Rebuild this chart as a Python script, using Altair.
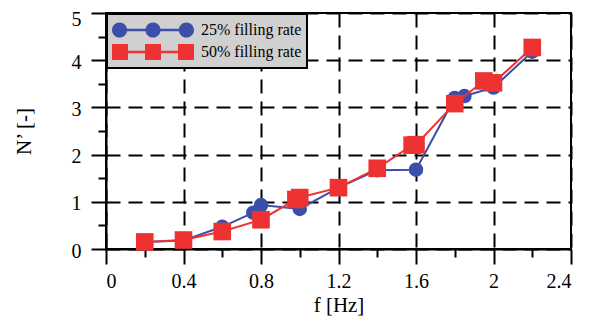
import altair as alt
import pandas as pd

# ---- data ----
series = ["25% filling rate", "50% filling rate"]
colors = ["#3b4fa8", "#ee3232"]

f25 = [0.2, 0.4, 0.6, 0.76, 0.8, 1.0, 1.2, 1.4, 1.6, 1.8, 1.85, 2.0, 2.2]
n25 = [0.15, 0.18, 0.47, 0.77, 0.93, 0.85, 1.3, 1.67, 1.68, 3.2, 3.24, 3.42, 4.18]

f50 = [0.2, 0.4, 0.6, 0.8, 0.98, 1.0, 1.2, 1.4, 1.58, 1.6, 1.8, 1.95, 2.0, 2.2]
n50 = [0.15, 0.19, 0.37, 0.62, 1.05, 1.09, 1.3, 1.71, 2.2, 2.21, 3.08, 3.56, 3.52, 4.27]

x_ticks = [0, 0.2, 0.4, 0.6, 0.8, 1.0, 1.2, 1.4, 1.6, 1.8, 2.0, 2.2, 2.4]
y_ticks = [0, 0.5, 1, 1.5, 2, 2.5, 3, 3.5, 4, 4.5, 5]

df25 = pd.DataFrame({"f": f25, "n": n25})
df50 = pd.DataFrame({"f": f50, "n": n50})

x_major = "round(datum.value*10) % 4 == 0"
y_major = "round(datum.value*10) % 10 == 0"

x_enc = alt.X(
    "f:Q",
    title="f [Hz]",
    scale=alt.Scale(domain=[0, 2.4], nice=False, zero=False),
    axis=alt.Axis(
        values=x_ticks,
        format="~g",
        labelExpr=f"{x_major} ? datum.label : ''",
        tickSize={"condition": {"test": x_major, "value": 15}, "value": 8},
        gridOpacity={"condition": {"test": x_major, "value": 1}, "value": 0},
        labelPadding=7,
        titlePadding=3,
    ),
)
y_enc = alt.Y(
    "n:Q",
    title="N\u2019 [-]",
    scale=alt.Scale(domain=[0, 5], nice=False, zero=False),
    axis=alt.Axis(
        values=y_ticks,
        format="~g",
        labelExpr=f"{y_major} ? datum.label : ''",
        tickSize={"condition": {"test": y_major, "value": 15}, "value": 8},
        gridOpacity={"condition": {"test": y_major, "value": 1}, "value": 0},
        labelOffset={"condition": {"test": "datum.value >= 5", "value": 6}, "value": 2},
        labelPadding=10,
        titlePadding=37,
    ),
)

line25 = alt.Chart(df25).mark_line(color=colors[0], strokeWidth=2).encode(x=x_enc, y=y_enc)
pts25 = alt.Chart(df25).mark_point(
    shape="circle", filled=True, size=210, opacity=1, color=colors[0]
).encode(x=x_enc, y=y_enc)
line50 = alt.Chart(df50).mark_line(color=colors[1], strokeWidth=2).encode(x=x_enc, y=y_enc)
pts50 = alt.Chart(df50).mark_point(
    shape="square", filled=True, size=310, opacity=1, color=colors[1]
).encode(x=x_enc, y=y_enc)

# legend symbols: line with three markers (custom symbol paths)
r = 0.185
c = 1 - r
path_circle = (
    f"M{-c},-0.03H{c}V0.03H{-c}Z "
    + " ".join(
        f"M{cx - r},0A{r},{r} 0 1,1 {cx + r},0A{r},{r} 0 1,1 {cx - r},0Z"
        for cx in (-c, 0, c)
    )
)
h = 0.195
cs = 1 - h
path_square = (
    f"M{-cs},-0.03H{cs}V0.03H{-cs}Z "
    + " ".join(
        f"M{cx - h},{-h}H{cx + h}V{h}H{cx - h}Z" for cx in (-cs, 0, cs)
    )
)

legend_df = pd.DataFrame({"s": series, "f": [0, 0], "n": [0, 0]})
leg = alt.Legend(title=None, orient="none", legendX=1, legendY=1)
legend_layer = (
    alt.Chart(legend_df)
    .transform_filter("datum.f > 100")
    .mark_point(filled=True, opacity=1, size=6724)
    .encode(
        color=alt.Color("s:N", scale=alt.Scale(domain=series, range=colors), legend=leg),
        shape=alt.Shape(
            "s:N", scale=alt.Scale(domain=series, range=[path_circle, path_square]), legend=leg
        ),
    )
)

chart = (
    alt.layer(line25, pts25, line50, pts50, legend_layer)
    .properties(
        width=465,
        height=236,
        autosize=alt.AutoSizeParams(type="none"),
        padding={"left": 98, "top": 5, "right": 18, "bottom": 70},
    )
    .configure_view(stroke="black", strokeWidth=2)
    .configure_axis(
        labelFont="Liberation Serif",
        labelFontSize=20,
        labelColor="black",
        titleFont="Liberation Serif",
        titleFontSize=21,
        titleFontWeight="normal",
        titleColor="black",
        tickColor="black",
        tickWidth=2,
        domainColor="black",
        domainWidth=2,
        grid=True,
        gridColor="black",
        gridDash=[14, 8],
        gridWidth=2,
    )
    .configure_legend(
        fillColor="#d0d0d0",
        strokeColor="black",
        strokeWidth=2,
        padding=5,
        labelFont="Liberation Serif",
        labelFontSize=16,
        labelColor="black",
        labelOffset=7,
        symbolStrokeWidth=0,
        symbolSize=6724,
        symbolOpacity=1,
        clipHeight=22,
        rowPadding=0,
    )
)

chart.save("out.html", embed_options={"renderer": "svg", "actions": False})
